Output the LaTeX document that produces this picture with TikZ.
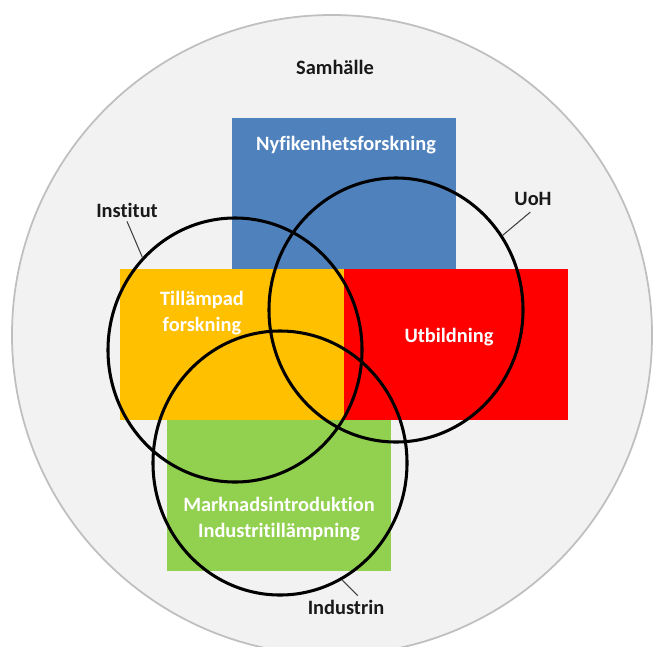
\documentclass[tikz,border=0pt]{standalone}
\usepackage{fontspec}
\setmainfont{Carlito}[Ligatures=NoCommon]
\usetikzlibrary{shapes.geometric, positioning}
\definecolor{nyfiken}{HTML}{4F81BD}
\definecolor{tillampad}{HTML}{FFC000}
\definecolor{utbild}{HTML}{FF0000}
\definecolor{marknad}{HTML}{92D050}
\definecolor{samhallefill}{HTML}{F2F2F2}
\definecolor{samhallerim}{HTML}{BFBFBF}

\begin{document}
\begin{tikzpicture}[x=0.03cm, y=-0.03cm, every node/.style={align=center, font=\fontsize{17.4}{22}\selectfont\bfseries}]
    \tikzstyle{block}=[rectangle, inner sep=0pt, outer sep=0pt, minimum width=6.72cm, minimum height=4.53cm];
    \tikzstyle{blocktext}=[text=white];
    \tikzstyle{ring}=[ellipse, draw=black, line width=2.6pt, inner sep=0pt, minimum width=7.62cm, minimum height=7.92cm];
    \tikzstyle{lbl}=[text=black!90];
    \tikzstyle{leader}=[draw=black!75, line width=0.9pt];
    \useasboundingbox (0,0) rectangle (654,646);
    \node[circle, fill=samhallefill, draw=samhallerim, line width=1.5pt, inner sep=0pt, minimum size=19.2cm] (samhalle) at (332,335) {};
    % the four fields
    \node[block, fill=tillampad] (tillampadbox) at (232,344.5) {};
    \node[block, fill=utbild, right=0pt of tillampadbox] (utbildbox) {};
    \node[block, fill=nyfiken, above=0pt of tillampadbox, xshift=3.36cm] (nyfikenbox) {};
    \node[block, fill=marknad, below=0pt of tillampadbox, xshift=1.41cm] (marknadbox) {};
    \node[blocktext] (nyfikentext) at (346,145) {Nyfikenhetsforskning};
    \node[blocktext] (tillampadtext) at (202,313) {Tillämpad\\forskning};
    \node[blocktext] (utbildtext) at (449,337) {Utbildning};
    \node[blocktext] (marknadtext) at (279,519) {Marknadsintroduktion\\Industritillämpning};
    % the three actors
    \node[ring] (institut) at (235,350) {};
    \node[ring] (uoh) at (396,310) {};
    \node[ring] (industrin) at (280,463) {};
    \node[lbl] (samhallelbl) at (335,67) {Samhälle};
    \node[lbl] (institutlbl) at (127,210) {Institut};
    \node[lbl] (uohlbl) at (533,199) {UoH};
    \node[lbl] (industrinlbl) at (346,607) {Industrin};
    \draw[leader] (institutlbl.south) -- (institut.135);
    \draw[leader, shorten <=3pt] (uohlbl.south) -- (uoh.35);
    \draw[leader] ([xshift=0.35cm]industrinlbl.north) -- (industrin.-62);
\end{tikzpicture}
\end{document}
